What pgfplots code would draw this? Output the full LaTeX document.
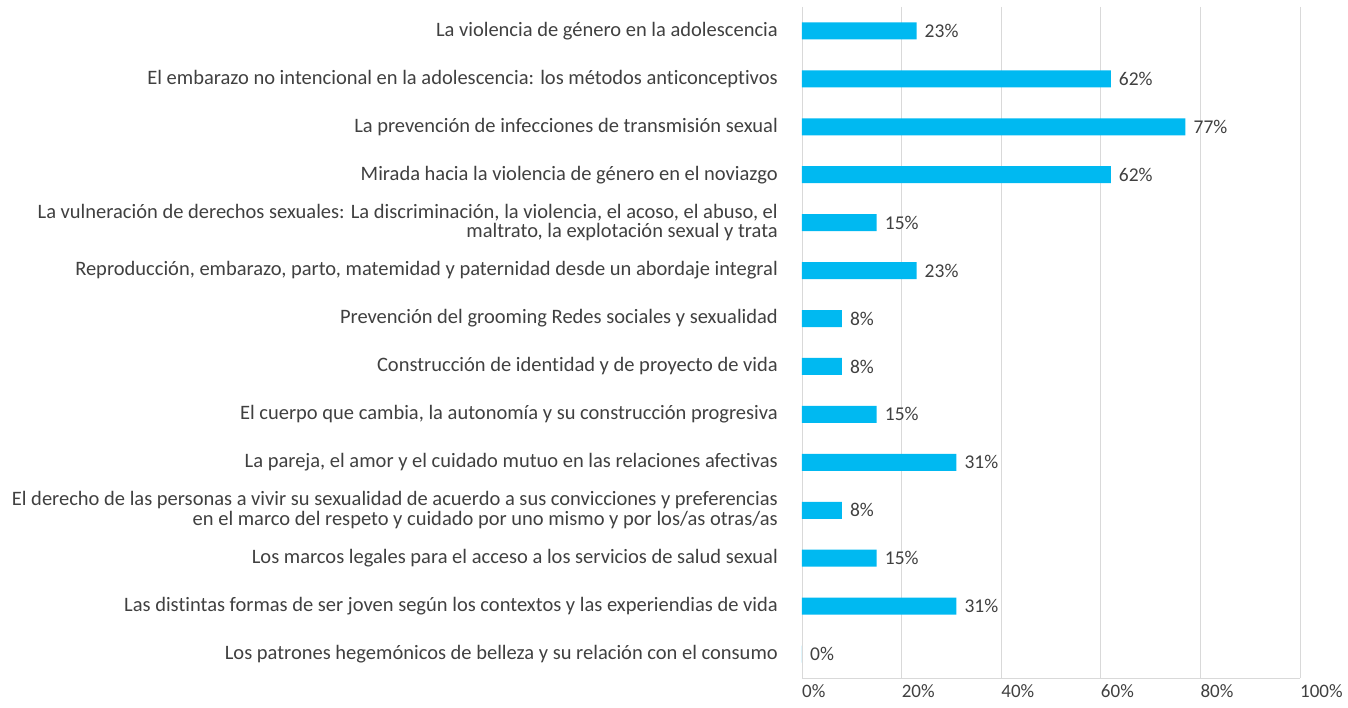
\documentclass[border=0pt]{standalone}
\usepackage{fontspec}
\setmainfont{Carlito}[RawFeature=-liga]
\usepackage{pgfplots}
\pgfplotsset{compat=1.18}
\definecolor{barblue}{RGB}{0,185,241}
\definecolor{txt}{RGB}{64,64,64}
\definecolor{gridc}{RGB}{217,217,217}
\begin{document}
\begin{tikzpicture}
\begin{axis}[
  at={(0pt,0pt)}, anchor=south west,
  scale only axis, width=498pt, height=671pt,
  xbar, bar width=17pt,
  xmin=0, xmax=100, ymin=-0.5, ymax=13.5,
  y dir=reverse,
  xtick={0,20,40,60,80,100},
  xticklabel={\pgfmathprintnumber{\tick}\%},
  ytick={0,...,13},
  yticklabels={
    La violencia de género en la adolescencia,
    El embarazo no intencional en la adolescencia: los métodos anticonceptivos,
    La prevención de infecciones de transmisión sexual,
    Mirada hacia la violencia de género en el noviazgo,
    {La vulneración de derechos sexuales: La discriminación, la violencia, el acoso, el abuso, el\\maltrato, la explotación sexual y trata},
    {Reproducción, embarazo, parto, matemidad y paternidad desde un abordaje integral},
    Prevención del grooming Redes sociales y sexualidad,
    Construcción de identidad y de proyecto de vida,
    {El cuerpo que cambia, la autonomía y su construcción progresiva},
    {La pareja, el amor y el cuidado mutuo en las relaciones afectivas},
    {El derecho de las personas a vivir su sexualidad de acuerdo a sus convicciones y preferencias\\en el marco del respeto y cuidado por uno mismo y por los/as otras/as},
    Los marcos legales para el acceso a los servicios de salud sexual,
    Las distintas formas de ser joven según los contextos y las experiendias de vida,
    Los patrones hegemónicos de belleza y su relación con el consumo
  },
  major tick length=0pt,
  /pgf/number format/assume math mode=true,
  yticklabel style={align=right, font=\fontsize{20.5}{19.5}\selectfont, text=txt, inner sep=0pt, xshift=-24pt},
  xticklabel style={font=\fontsize{19}{20}\selectfont, text=txt, inner sep=0pt, anchor=north west, yshift=-6pt},
  xmajorgrids, grid style={gridc, line width=0.8pt},
  axis x line*=bottom, axis y line*=left,
  x axis line style={gridc, line width=0.8pt},
  y axis line style={draw=none},
  nodes near coords={\pgfmathprintnumber{\pgfplotspointmeta}\%},
  point meta=x,
  nodes near coords style={font=\fontsize{19.5}{20}\selectfont, text=txt, anchor=west, inner sep=0pt, xshift=8pt},
  clip=false,
]
\addplot[fill=barblue, draw=none] coordinates {
  (23,0) (62,1) (77,2) (62,3) (15,4) (23,5) (8,6) (8,7) (15,8) (31,9) (8,10) (15,11) (31,12) (0,13)
};
\end{axis}
\useasboundingbox (-802pt,-30pt) rectangle (546pt,678pt);
\end{tikzpicture}
\end{document}
